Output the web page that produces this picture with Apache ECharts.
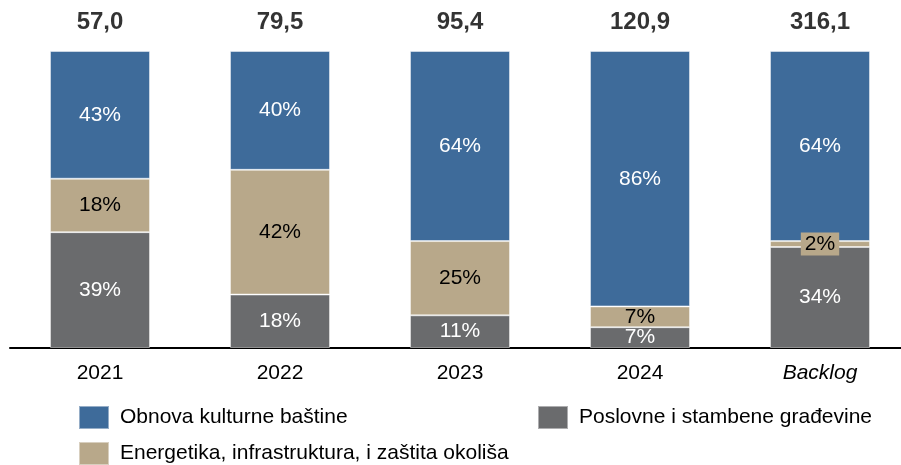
<!DOCTYPE html>
<html>
<head>
<meta charset="utf-8">
<script src="https://cdn.jsdelivr.net/npm/echarts@6/dist/echarts.min.js"></script>
<style>
  html, body { margin: 0; padding: 0; background: #fff; }
  #chart { width: 901px; height: 465px; }
</style>
</head>
<body>
<div id="chart"></div>
<script>
const categories = ['2021', '2022', '2023', '2024', 'Backlog']
const totals = [57.0, 79.5, 95.4, 120.9, 316.1]
// udjeli u %
const obnova = [43, 40, 64, 86, 64]
const energetika = [18, 42, 25, 7, 2]
const poslovne = [39, 18, 11, 7, 34]

const seriesNames = ['Obnova kulturne baštine', 'Energetika, infrastruktura, i zaštita okoliša', 'Poslovne i stambene građevine']
const colors = { blue: '#3e6b9a', tan: '#b8a88a', grey: '#6a6b6d' }

const font = '"Liberation Sans", Arial, sans-serif'

const chart = echarts.init(document.getElementById('chart'))

function barSeries(name, data, color, labelColor) {
	return {
		name: name,
		type: 'bar',
		stack: 'total',
		barWidth: 100,
		data: data,
		itemStyle: { color: color, borderColor: 'rgba(255,255,255,0.45)', borderWidth: 1 },
		label: {
			show: true,
			position: 'inside',
			formatter: '{c}%',
			color: labelColor,
			fontSize: 21,
			fontFamily: font
		}
	}
}

function legendAt(name, left, top) {
	return {
		data: [name],
		left: left,
		top: top,
		padding: 0,
		icon: 'rect',
		itemWidth: 30,
		itemHeight: 23,
		selectedMode: false,
		textStyle: { fontSize: 21, color: '#000', fontFamily: font, padding: [0, 0, 0, 6] }
	}
}

// mali segment (2%) dobiva pozadinu da se broj vidi
const energetikaSeries = barSeries(seriesNames[1], energetika, colors.tan, '#000')
energetikaSeries.data = energetika.map(v => v < 5
	? { value: v, label: { backgroundColor: colors.tan, padding: [1, 4] } }
	: v)

chart.setOption({
	animation: false,
	color: [colors.blue, colors.tan, colors.grey],
	grid: { left: 10, top: 51, width: 900, height: 297, outerBoundsMode: 'none', containLabel: false },
	legend: [
		legendAt(seriesNames[0], 78, 405),
		legendAt(seriesNames[2], 537, 405),
		legendAt(seriesNames[1], 78, 441)
	],
	xAxis: {
		type: 'category',
		data: categories,
		axisLine: { lineStyle: { color: '#000', width: 2 } },
		axisTick: { show: false },
		axisLabel: {
			fontSize: 21,
			color: '#000',
			fontFamily: font,
			margin: 15,
			formatter: function (v) {
				return v === 'Backlog' ? '{it|' + v + '}' : v
			},
			rich: { it: { fontStyle: 'italic', fontSize: 21, color: '#000', fontFamily: font } }
		}
	},
	yAxis: {
		type: 'value',
		min: 0,
		max: 100,
		show: false,
		splitLine: { show: false }
	},
	series: [
		barSeries(seriesNames[2], poslovne, colors.grey, '#fff'),
		energetikaSeries,
		barSeries(seriesNames[0], obnova, colors.blue, '#fff'),
		{
			name: 'ukupno',
			type: 'scatter',
			symbolSize: 0,
			data: categories.map((c, i) => [c, 100]),
			label: {
				show: true,
				position: 'top',
				distance: 17,
				fontSize: 24,
				fontWeight: 'bold',
				color: '#000',
				fontFamily: font,
				formatter: p => totals[p.dataIndex].toFixed(1).replace('.', ',')
			},
			silent: true
		}
	]
})
</script>
</body>
</html>
